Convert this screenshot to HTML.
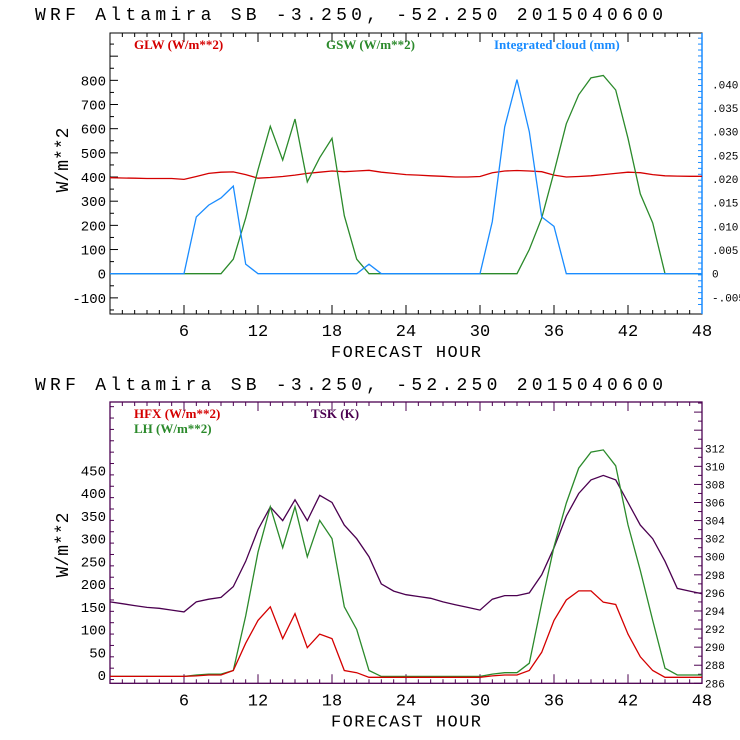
<!DOCTYPE html>
<html><head><meta charset="utf-8"><style>
body{margin:0;background:#fff}
svg{display:block}
text{font-family:"Liberation Mono",monospace}
.leg{font-family:"Liberation Serif",serif;font-weight:bold;font-size:13px}
</style></head><body>
<svg id="c" width="740" height="740" viewBox="0 0 740 740" xmlns="http://www.w3.org/2000/svg"></svg>
<script>
const hours=[0,1,2,3,4,5,6,7,8,9,10,11,12,13,14,15,16,17,18,19,20,21,22,23,24,25,26,27,28,29,30,31,32,33,34,35,36,37,38,39,40,41,42,43,44,45,46,47,48];
const glw=[397,396,395,394,394,394,390,402,415,420,421,410,395,398,402,408,415,420,425,422,425,428,420,415,410,408,405,403,400,400,402,418,425,427,425,422,408,400,402,405,410,415,420,418,410,405,404,403,403];
const gsw=[0,0,0,0,0,0,0,0,0,0,60,230,430,610,470,640,380,480,560,240,60,0,0,0,0,0,0,0,0,0,0,0,0,0,100,230,420,620,740,810,820,760,560,330,210,0,0,0,0];
const cloud=[0,0,0,0,0,0,0,.012,.0145,.016,.0185,.002,0,0,0,0,0,0,0,0,0,.002,0,0,0,0,0,0,0,0,0,.011,.031,.041,.030,.012,.010,0,0,0,0,0,0,0,0,0,0,0,0];
const tsk=[295.0,294.8,294.6,294.4,294.3,294.1,293.9,295.0,295.3,295.5,296.7,299.5,303.0,305.5,304.0,306.3,304.0,306.8,306.0,303.5,302.0,300.0,297.0,296.2,295.8,295.6,295.4,295.0,294.7,294.4,294.1,295.3,295.7,295.7,296.0,298.0,301.0,304.5,307.0,308.5,309.0,308.5,306.0,303.5,302.0,299.5,296.5,296.2,295.9];
const lh=[-3,-3,-3,-3,-3,-3,-3,0,2,2,10,130,270,370,280,370,260,340,300,150,100,10,-3,-3,-3,-3,-3,-3,-3,-3,-3,2,5,5,26,158,282,378,455,490,495,460,330,230,120,15,0,0,0];
const hfx=[-3,-3,-3,-3,-3,-3,-3,-2,0,0,10,70,120,150,80,135,60,90,80,10,5,-5,-5,-5,-5,-5,-5,-5,-5,-5,-5,-2,0,0,10,50,120,165,185,185,160,155,90,40,10,-5,-5,-5,-5];
const xLabels=[6,12,18,24,30,36,42,48];
const topLeftTicks=[-100,0,100,200,300,400,500,600,700,800];
const topRightTicks=[-.005,0,.005,.010,.015,.020,.025,.030,.035,.040];
const botLeftTicks=[0,50,100,150,200,250,300,350,400,450];
const botRightTicks=[286,288,290,292,294,296,298,300,302,304,306,308,310,312];

const S=document.getElementById('c'),NS='http://www.w3.org/2000/svg';
function mk(t,a,p){const e=document.createElementNS(NS,t);for(const k in a)e.setAttribute(k,a[k]);(p||S).appendChild(e);return e;}
const X0=110,X1=702;
const x=h=>X0+(X1-X0)*h/48;
// top axes
const tY=v=>273.7-v*0.2417, tYr=v=>273.7-v*4734;
// bottom axes
const bY=v=>675-v*0.4548, bYr=v=>683.3-(v-286)*9.04;

function title(y,name){const t=mk('text',{x:35,y:y,'font-size':18,textLength:628,lengthAdjust:'spacing',fill:'#000'});t.textContent='WRF  Altamira  SB  -3.250, -52.250  2015040600';

}
function xaxis(top,bot,col,name){
 const g=mk('g',{});
 
 
 for(let h=1;h<48;h++){const L=h%6==0?9:4;mk('line',{x1:x(h),x2:x(h),y1:bot,y2:bot-L,stroke:col},g);mk('line',{x1:x(h),x2:x(h),y1:top,y2:top+L,stroke:col},g);}
 xLabels.forEach(h=>{const t=mk('text',{x:x(h),y:bot+22,'font-size':17,'text-anchor':'middle'},g);t.textContent=h;});
 const t=mk('text',{x:406,y:bot+43,'font-size':17,'text-anchor':'middle',textLength:150,lengthAdjust:'spacing'},g);t.textContent='FORECAST HOUR';
}
function line(arr,yf,col,name){let d='';arr.forEach((v,i)=>{d+=(i?'L':'M')+x(hours[i]).toFixed(1)+' '+yf(v).toFixed(1);});
 const p=mk('path',{d:d,fill:'none',stroke:col,'stroke-width':1.3});
 
 }

// ---- TOP ----
title(20,'top-title');
const TT=33,TB=314;
mk('rect',{x:X0,y:TT,width:X1-X0,height:TB-TT,fill:'none',stroke:'#000'});
mk('line',{x1:X1,x2:X1,y1:TT,y2:TB,stroke:'#1a8cff','stroke-width':1.5});
xaxis(TT,TB,'#000','top-x-axis');
for(let v=-150;v<=990;v+=50){const L=v%100==0?8:4;mk('line',{x1:X0,x2:X0+L,y1:tY(v),y2:tY(v),stroke:'#000'});}
topLeftTicks.forEach(v=>{const t=mk('text',{x:X0-4,y:tY(v)+5,'font-size':14,'text-anchor':'end'});t.textContent=v;});
for(let v=-.0065;v<=.0505;v+=.00125){mk('line',{x1:X1,x2:X1-4,y1:tYr(v),y2:tYr(v),stroke:'#1a8cff'});}
topRightTicks.forEach(v=>{const t=mk('text',{x:X1+10,y:tYr(v)+4,'font-size':11});t.textContent=v==0?'0':(v<0?'-':'')+Math.abs(v).toFixed(3).slice(1);});
const yl=mk('text',{x:0,y:0,'font-size':18,transform:'translate(68,160) rotate(-90)','text-anchor':'middle'});yl.textContent='W/m**2';


line(glw,tY,'#d40000','glw-line');
line(gsw,tY,'#2b8a2b','gsw-line');
line(cloud,tYr,'#1a8cff','cloud-line');
[['GLW (W/m**2)',134,'#d40000','legend-glw'],['GSW (W/m**2)',326,'#2b8a2b','legend-gsw'],['Integrated cloud (mm)',494,'#1a8cff','legend-cloud']].forEach(a=>{const t=mk('text',{x:a[1],y:49,fill:a[2],class:'leg'});t.textContent=a[0];

});

// ---- BOTTOM ----
title(390,'bottom-title');
const BT=402,BB=683.3,PC='#4b0050';
mk('rect',{x:X0,y:BT,width:X1-X0,height:BB-BT,fill:'none',stroke:PC,'stroke-width':1.3});
xaxis(BT,BB,PC,'bottom-x-axis');
for(let v=-10;v<=600;v+=25){const L=v%50==0?8:4;if(bY(v)>BT&&bY(v)<BB)mk('line',{x1:X0,x2:X0+L,y1:bY(v),y2:bY(v),stroke:PC});}
botLeftTicks.forEach(v=>{const t=mk('text',{x:X0-4,y:bY(v)+5,'font-size':14,'text-anchor':'end'});t.textContent=v;});
for(let v=286;v<=317;v+=1){const L=v%2==0?8:4;mk('line',{x1:X1,x2:X1-L,y1:bYr(v),y2:bYr(v),stroke:PC});}
botRightTicks.forEach(v=>{const t=mk('text',{x:X1+3,y:bYr(v)+4,'font-size':11});t.textContent=v;});
const yl2=mk('text',{x:0,y:0,'font-size':18,transform:'translate(68,545) rotate(-90)','text-anchor':'middle'});yl2.textContent='W/m**2';


line(tsk,bYr,PC,'tsk-line');
line(lh,bY,'#2b8a2b','lh-line');
line(hfx,bY,'#d40000','hfx-line');
[['HFX (W/m**2)',134,418,'#d40000','legend-hfx'],['LH  (W/m**2)',134,433,'#2b8a2b','legend-lh'],['TSK (K)',311,418,PC,'legend-tsk']].forEach(a=>{const t=mk('text',{x:a[1],y:a[2],fill:a[3],class:'leg'});t.textContent=a[0];

});
</script>
</body></html>
